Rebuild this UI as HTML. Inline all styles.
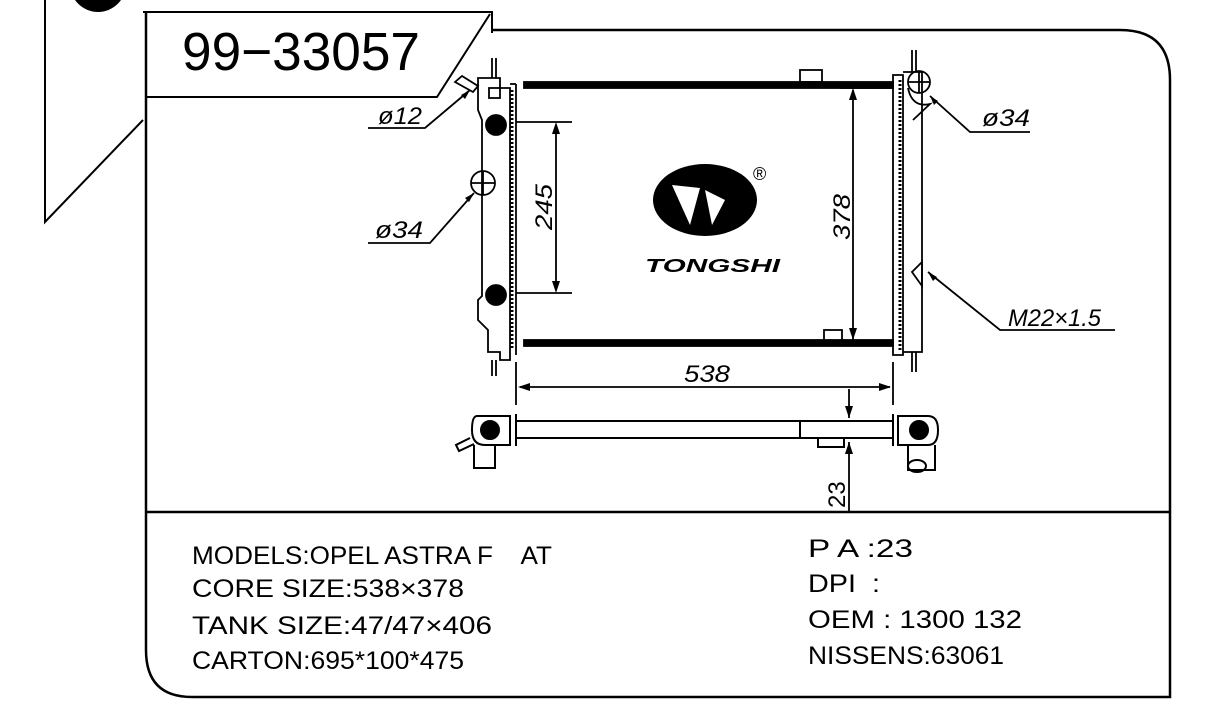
<!DOCTYPE html>
<html><head><meta charset="utf-8"><style>
body{margin:0;background:#fff;width:1207px;height:718px;overflow:hidden}
svg{display:block}
text{font-family:"Liberation Sans",sans-serif;fill:#000}
</style></head><body>
<svg width="1207" height="718" viewBox="0 0 1207 718" xmlns="http://www.w3.org/2000/svg">
<g fill="none" stroke="#000" stroke-width="2">
<path d="M45 0 V222 L143 120"/>
<circle cx="98" cy="-16" r="28" fill="#000" stroke="none"/>
<path d="M143 12 H492 V33"/>
<path d="M490 14 L437 97 H146"/>
<path d="M146 12 V650 Q146 697 192 697 H1170 V80 Q1170 30 1120 30 H492" stroke-width="2.5"/>
<line x1="146" y1="512" x2="1170" y2="512" stroke-width="2.5"/>
</g>
<text x="182" y="70" font-size="54" textLength="238" lengthAdjust="spacingAndGlyphs">99−33057</text>

<g stroke="#000" fill="none" stroke-width="1.8">
<rect x="524" y="82" width="369" height="6" fill="#000"/>
<rect x="524" y="340" width="369" height="6" fill="#000"/>
<path d="M478 78 H500 V88 H510 V360 H500 V352 H488 V330 L478 320 V300 L482 296 V120 L478 110 V78Z"/>
<line x1="510" y1="84" x2="516" y2="84"/><line x1="516" y1="84" x2="516" y2="355"/>
<line x1="512" y1="90" x2="512" y2="350" stroke-dasharray="2 2" stroke-width="3"/>
<line x1="492" y1="58" x2="492" y2="78"/><line x1="496" y1="58" x2="496" y2="78"/>
<line x1="492" y1="360" x2="492" y2="376"/><line x1="496" y1="360" x2="496" y2="376"/>
<rect x="489" y="88" width="11" height="10"/>
<circle cx="496" cy="125" r="10" fill="#000"/>
<circle cx="496" cy="295" r="10" fill="#000"/>
<circle cx="483" cy="183" r="12"/><line x1="471" y1="183" x2="495" y2="183"/><line x1="483" y1="171" x2="483" y2="195"/>
<path d="M455 82 L462 76 L478 86 L473 92Z"/>
<path d="M893 75 H903 V355 H893Z"/>
<path d="M903 72 H922 V352 H903"/>
<line x1="900" y1="80" x2="900" y2="350" stroke-dasharray="2 2" stroke-width="3"/>
<line x1="912" y1="50" x2="912" y2="72"/><line x1="916" y1="50" x2="916" y2="72"/>
<line x1="912" y1="352" x2="912" y2="372"/><line x1="916" y1="352" x2="916" y2="372"/>
<circle cx="919" cy="82" r="11"/><line x1="908" y1="82" x2="930" y2="82"/><line x1="919" y1="71" x2="919" y2="93"/>
<path d="M908 88 Q912 108 930 104 L913 120"/>
<path d="M922 262 L912 272 L922 286Z"/>
<rect x="800" y="70" width="22" height="12"/>
<rect x="824" y="330" width="18" height="12"/>
</g>

<g stroke="#000" stroke-width="1.8" fill="none">
<line x1="516" y1="122" x2="572" y2="122"/><line x1="516" y1="293" x2="572" y2="293"/>
<line x1="556" y1="125" x2="556" y2="290"/>
<line x1="853" y1="90" x2="853" y2="340"/><line x1="840" y1="88" x2="893" y2="88"/>
<line x1="516" y1="362" x2="516" y2="405"/><line x1="893" y1="362" x2="893" y2="405"/>
<line x1="520" y1="387" x2="890" y2="387"/>
<line x1="849" y1="389" x2="849" y2="418"/><line x1="849" y1="442" x2="849" y2="512"/>
<path d="M368 128 H425 L470 90"/>
<path d="M368 243 H430 L474 193"/>
<path d="M1030 132 H970 L930 96"/>
<path d="M1115 330 H1000 L928 272"/>
</g>
<g fill="#000">
<path d="M556 122 l-4 12 h8z"/><path d="M556 293 l-4 -12 h8z"/>
<path d="M853 88 l-4 12 h8z"/><path d="M853 340 l-4 -12 h8z"/>
<path d="M518 387 l12 -4 v8z"/><path d="M891 387 l-12 -4 v8z"/>
<path d="M849 418 l-4 -12 h8z"/><path d="M849 442 l-4 12 h8z"/>
<path d="M470 90 l-9 5 l4 4z"/><path d="M474 193 l-9 5 l4 4z"/>
<path d="M930 96 l4 9 l4 -4z"/><path d="M928 272 l5 9 l4 -4z"/>
</g>
<g font-style="italic" font-size="24">
<text x="378" y="124" textLength="44" lengthAdjust="spacingAndGlyphs">ø12</text>
<text x="375" y="238" textLength="48" lengthAdjust="spacingAndGlyphs">ø34</text>
<text x="982" y="126" textLength="48" lengthAdjust="spacingAndGlyphs">ø34</text>
<text x="1008" y="326" textLength="93" lengthAdjust="spacingAndGlyphs">M22×1.5</text>
<text x="684" y="382" textLength="46" lengthAdjust="spacingAndGlyphs">538</text>
<text transform="translate(552 230) rotate(-90)" textLength="46" lengthAdjust="spacingAndGlyphs">245</text>
<text transform="translate(850 240) rotate(-90)" textLength="46" lengthAdjust="spacingAndGlyphs">378</text>
<text transform="translate(845 508) rotate(-90)" font-style="normal">23</text>
</g>

<ellipse cx="705" cy="200" rx="52" ry="36" fill="#000"/>
<path d="M672 185 L700 188 L690 225 Z M705 190 L725 200 L712 225 Z" fill="#fff"/>
<text x="753" y="180" font-size="18">®</text>
<text x="645" y="272" font-size="18" font-weight="bold" font-style="italic" textLength="135" lengthAdjust="spacingAndGlyphs">TONGSHI</text>

<g stroke="#000" stroke-width="2" fill="none">
<line x1="516" y1="421" x2="893" y2="421"/><line x1="516" y1="438" x2="893" y2="438"/>
<path d="M516 414 V446 M893 414 V446"/>
<path d="M477 416 H510 V445 H485 Q472 445 472 430 Q472 416 477 416Z"/>
<circle cx="490" cy="430" r="9" fill="#000"/>
<path d="M470 438 L456 445 L459 451 L474 444"/>
<path d="M474 445 V468 H495 V445"/>
<path d="M898 416 H928 Q938 416 938 430 Q938 445 928 445 H898Z"/>
<circle cx="919" cy="430" r="9" fill="#000"/>
<path d="M908 445 V470 H935 V445"/><ellipse cx="917" cy="466" rx="9" ry="6"/>
<path d="M800 421 V438 M818 438 V447 H844 V438"/>
</g>

<g font-size="25">
<text x="192" y="564" textLength="360" lengthAdjust="spacingAndGlyphs" xml:space="preserve">MODELS:OPEL ASTRA F    AT</text>
<text x="192" y="597" textLength="272" lengthAdjust="spacingAndGlyphs">CORE SIZE:538×378</text>
<text x="192" y="634" textLength="300" lengthAdjust="spacingAndGlyphs">TANK SIZE:47/47×406</text>
<text x="192" y="669" textLength="272" lengthAdjust="spacingAndGlyphs">CARTON:695*100*475</text>
<text x="808" y="557" textLength="105" lengthAdjust="spacingAndGlyphs" xml:space="preserve">P A :23</text>
<text x="808" y="592" textLength="72" lengthAdjust="spacingAndGlyphs" xml:space="preserve">DPI  :</text>
<text x="808" y="628" textLength="214" lengthAdjust="spacingAndGlyphs">OEM : 1300 132</text>
<text x="808" y="664" textLength="196" lengthAdjust="spacingAndGlyphs">NISSENS:63061</text>
</g>
</svg>
</body></html>
